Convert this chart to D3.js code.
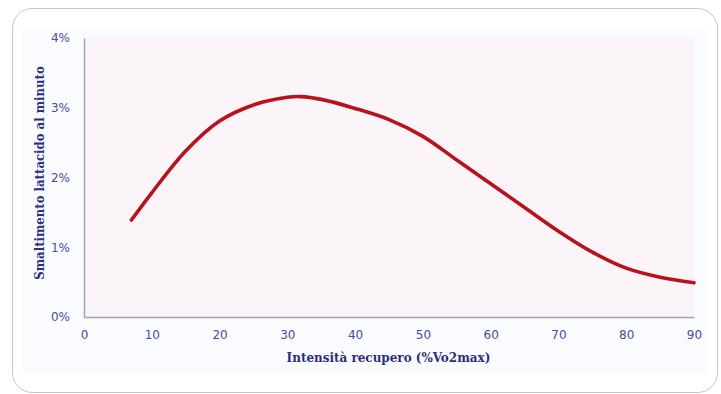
<!DOCTYPE html>
<html><head><meta charset="utf-8">
<script src="https://cdn.jsdelivr.net/npm/d3@7"></script>
<style>
html,body{margin:0;padding:0;background:#fff;}
svg{display:block;}
</style></head>
<body>
<svg id="c" width="721" height="394"></svg>
<script>
const xValues = [7, 10, 15, 20, 25, 30, 32, 35, 40, 45, 50, 55, 60, 65, 70, 75, 80, 85, 90];
const yValues = [1.39, 1.78, 2.38, 2.81, 3.04, 3.15, 3.16, 3.12, 2.99, 2.83, 2.59, 2.25, 1.91, 1.57, 1.23, 0.93, 0.70, 0.57, 0.49];
const xTicks = [0, 10, 20, 30, 40, 50, 60, 70, 80, 90];
const yTicks = [0, 1, 2, 3, 4];
const xTitle = "Intensità recupero (%Vo2max)";
const yTitle = "Smaltimento lattacido al minuto";

const svg = d3.select("#c");
// outer rounded frame
svg.append("rect").attr("x", 12.5).attr("y", 8.5).attr("width", 705).attr("height", 384)
  .attr("rx", 20).attr("fill", "#fff").attr("stroke", "#c6c6c6").attr("stroke-width", 1);
// inner panel
svg.append("rect").attr("x", 22).attr("y", 30).attr("width", 686).attr("height", 343).attr("fill", "#fafbfe");

const m = {left: 84, right: 694, top: 38, bottom: 317};
const x = d3.scaleLinear().domain([0, 90]).range([m.left, m.right]);
const y = d3.scaleLinear().domain([0, 4]).range([m.bottom, m.top]);

svg.append("rect").attr("x", m.left).attr("y", m.top).attr("width", m.right - m.left).attr("height", m.bottom - m.top)
  .attr("fill", "#fbf4f8");

const labelColor = "#4a4a9c";
const tickFont = "'DejaVu Sans', Verdana, sans-serif";

const xAxis = svg.append("g").attr("transform", `translate(0,${m.bottom})`)
  .call(d3.axisBottom(x).tickValues(xTicks).tickSize(0).tickPadding(13).tickFormat(d3.format("d")));
const yAxis = svg.append("g").attr("transform", `translate(${m.left},0)`)
  .call(d3.axisLeft(y).tickValues(yTicks).tickSize(0).tickPadding(14).tickFormat(d => d + "%"));
[xAxis, yAxis].forEach(g => {
  g.select(".domain").attr("stroke", "#a2a4ac").attr("stroke-width", 1.5);
  g.selectAll("text").attr("fill", labelColor).style("font-family", tickFont).style("font-size", "12px");
});

const line = d3.line().x((d, i) => x(xValues[i])).y((d, i) => y(yValues[i])).curve(d3.curveCatmullRom.alpha(0.5));
svg.append("path").datum(yValues).attr("d", line).attr("fill", "none")
  .attr("stroke", "#b8131c").attr("stroke-width", 3.6).attr("stroke-linecap", "round");

const titleFont = "'DejaVu Serif', serif";
svg.append("text").attr("x", (287 + 490) / 2).attr("y", 362).attr("text-anchor", "middle")
  .attr("fill", "#2e2e7c").style("font-family", titleFont).style("font-weight", "bold")
  .style("font-stretch", "condensed").style("font-size", "13.3px").text(xTitle);
svg.append("text").attr("transform", `translate(44,173) rotate(-90)`).attr("text-anchor", "middle")
  .attr("fill", "#2e2e7c").style("font-family", titleFont).style("font-weight", "bold")
  .style("font-stretch", "condensed").style("font-size", "13px").text(yTitle);
</script>
</body></html>
